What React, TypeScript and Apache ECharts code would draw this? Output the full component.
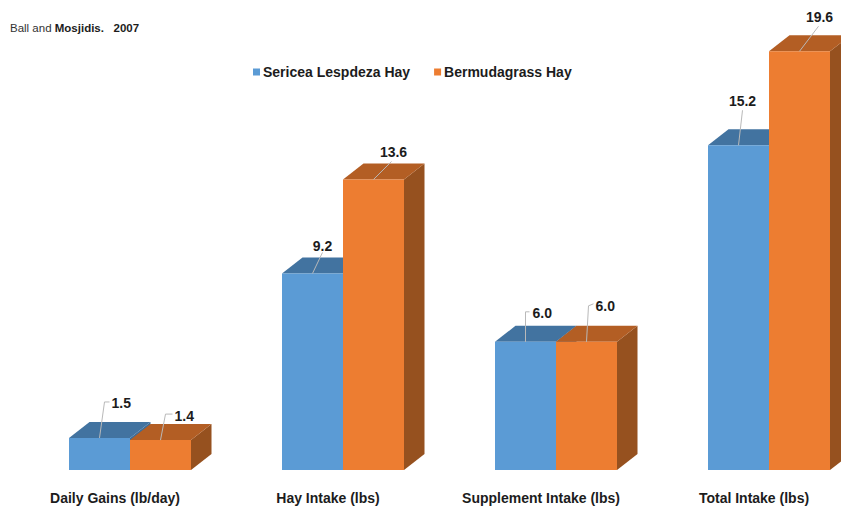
import React, { useEffect, useRef } from "react";
import * as echarts from "echarts";

const categories = ["Daily Gains (lb/day)", "Hay Intake (lbs)", "Supplement Intake (lbs)", "Total Intake (lbs)"];
const sericea = [1.5, 9.2, 6.0, 15.2];
const bermuda = [1.4, 13.6, 6.0, 19.6];
const seriesNames = ["Sericea Lespdeza Hay", "Bermudagrass Hay"];

const FONT = '"Liberation Sans", Arial, sans-serif';
const TEXT = "#1c1c1c";
const BAR_W = 61;
const SHIFT = 15;
const DX = 20.5;
const DY = 16;

// leader polyline offsets from the bar's top centre, then label anchor offset and alignment
const leadersA: any[] = [
  { pts: [[5, -36], [10, -36]], label: [12, -35], align: "left" },
  { pts: [[10, -21]], label: [10, -27], align: "center" },
  { pts: [[0, -30], [4, -30]], label: [7, -29], align: "left" },
  { pts: [[4, -35]], label: [4, -44], align: "center" },
];
const leadersB: any[] = [
  { pts: [[5, -26], [12, -26]], label: [14, -24], align: "left" },
  { pts: [[18, -18]], label: [20, -27], align: "center" },
  { pts: [[2, -36], [7, -38]], label: [9, -36], align: "left" },
  { pts: [[19, -25]], label: [20, -34], align: "center" },
];

function makeRender(front: string, top: string, side: string, offset: number, leaders: any[]) {
  return (params: any, api: any) => {
    const i = api.value(0);
    const v = api.value(1);
    const [cx, yTop] = api.coord([i, v]);
    const [, yBase] = api.coord([i, 0]);
    const x0 = cx + SHIFT + offset;
    const x1 = x0 + BAR_W;
    const mid = x0 + BAR_W / 2;
    const l = leaders[i];
    const line = [[mid, yTop], ...l.pts.map((p: number[]) => [mid + p[0], yTop + p[1]])];
    return {
      type: "group",
      children: [
        {
          type: "polygon",
          shape: { points: [[x1, yTop], [x1 + DX, yTop - DY], [x1 + DX, yBase - DY], [x1, yBase]] },
          style: { fill: side },
        },
        {
          type: "polygon",
          shape: { points: [[x0, yTop], [x0 + DX, yTop - DY], [x1 + DX, yTop - DY], [x1, yTop]] },
          style: { fill: top },
        },
        { type: "rect", shape: { x: x0, y: yTop, width: BAR_W, height: yBase - yTop }, style: { fill: front } },
        {
          type: "polyline",
          shape: { points: line },
          style: { fill: "none", stroke: "#b9b9b9", lineWidth: 1 },
        },
        {
          type: "text",
          x: mid + l.label[0],
          y: yTop + l.label[1],
          style: {
            text: v.toFixed(1),
            fill: TEXT,
            font: `bold 14px ${FONT}`,
            align: l.align,
            verticalAlign: "middle",
          },
        },
      ],
    };
  };
}

export default function App() {
  const ref = useRef<HTMLDivElement>(null);
  useEffect(() => {
    document.body.style.margin = "0";
    const chart = echarts.init(ref.current!, undefined, { renderer: "svg" });
    chart.setOption({
      animation: false,
      backgroundColor: "#ffffff",
      title: {
        left: 5,
        top: 17,
        text: "Ball and {b|Mosjidis.   2007}",
        textStyle: {
          fontFamily: FONT,
          fontSize: 11.5,
          fontWeight: "normal",
          color: "#333333",
          rich: { b: { fontFamily: FONT, fontSize: 11.5, fontWeight: "bold", color: TEXT } },
        },
      },
      legend: {
        left: 248,
        top: 60,
        icon: "rect",
        itemWidth: 7,
        itemHeight: 7,
        itemGap: 24,
        data: seriesNames,
        textStyle: { fontFamily: FONT, fontSize: 14, fontWeight: "bold", color: TEXT, padding: [0, 0, 0, -2] },
      },
      grid: { left: 8.5, top: 0, width: 852, height: 470, outerBoundsMode: "none", containLabel: false },
      xAxis: {
        type: "category",
        data: categories,
        axisLine: { show: false },
        axisTick: { show: false },
        axisLabel: { interval: 0, margin: 21, fontFamily: FONT, fontSize: 14, fontWeight: "bold", color: TEXT },
      },
      yAxis: { type: "value", min: 0, max: 22, show: false },
      series: [
        {
          type: "custom",
          name: seriesNames[0],
          clip: false,
          itemStyle: { color: "#5B9BD5" },
          encode: { x: 0, y: 1 },
          data: sericea.map((v, i) => [i, v]),
          renderItem: makeRender("#5B9BD5", "#4273A0", "#3E6D98", -BAR_W, leadersA),
        },
        {
          type: "custom",
          name: seriesNames[1],
          clip: false,
          itemStyle: { color: "#ED7D31" },
          encode: { x: 0, y: 1 },
          data: bermuda.map((v, i) => [i, v]),
          renderItem: makeRender("#ED7D31", "#B35E24", "#96511F", 0, leadersB),
        },
      ],
    });
    return () => chart.dispose();
  }, []);
  return <div ref={ref} style={{ width: 841, height: 508 }} />;
}
